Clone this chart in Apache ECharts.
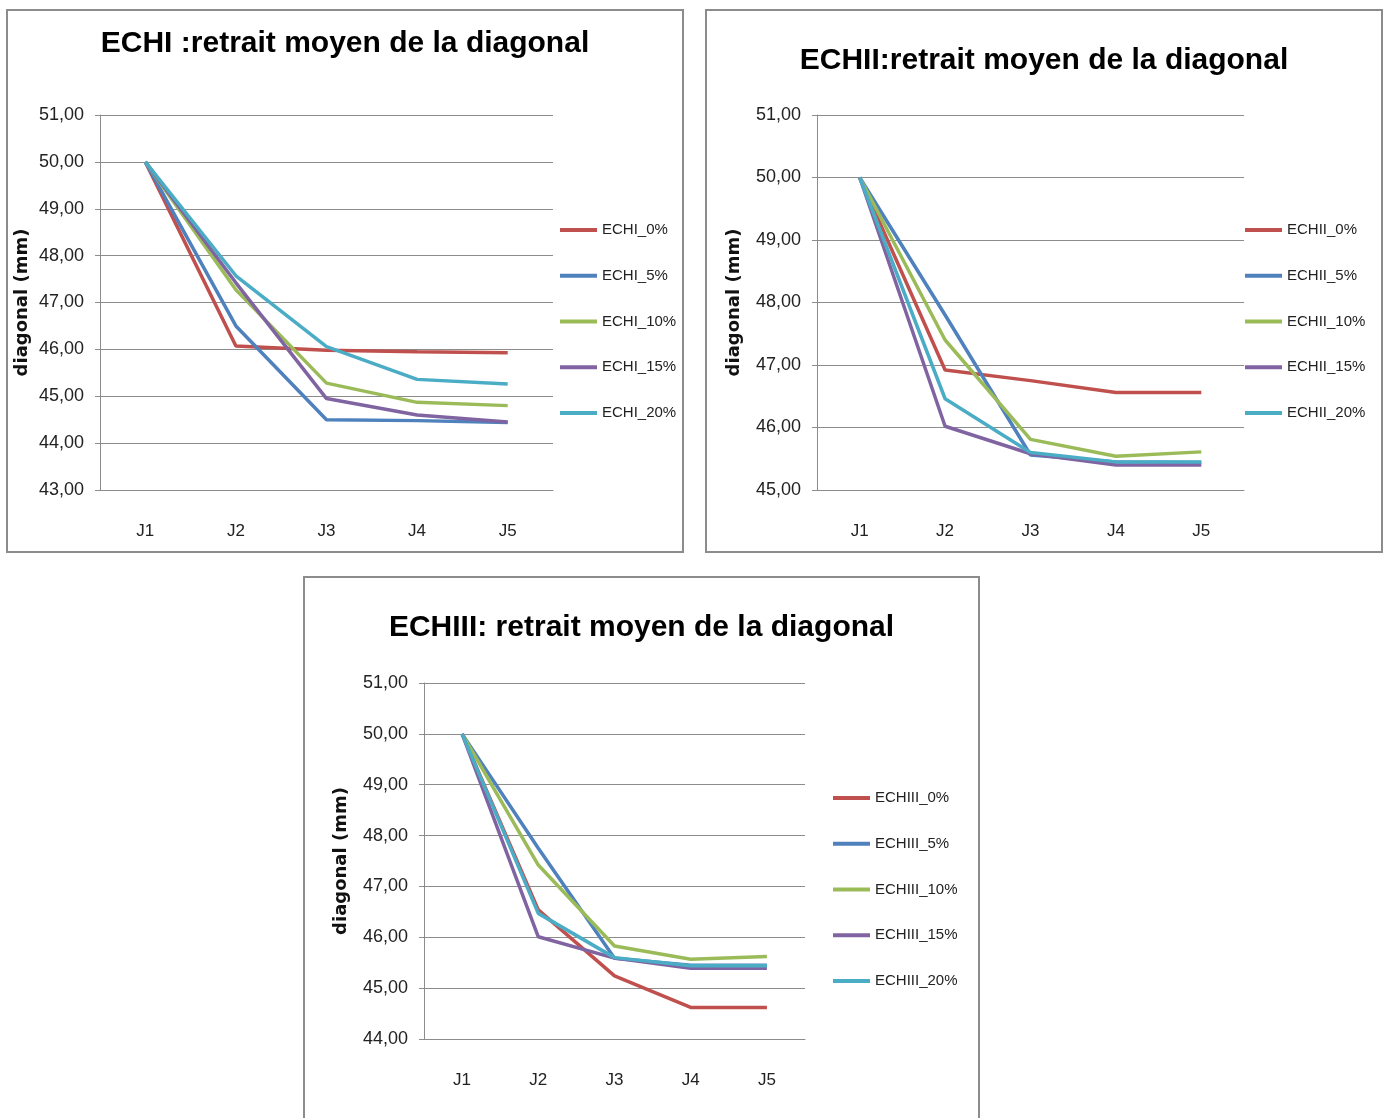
<!DOCTYPE html>
<html>
<head>
<meta charset="utf-8">
<script src="https://cdn.jsdelivr.net/npm/echarts@6/dist/echarts.min.js"></script>
<style>
body{margin:0;width:1390px;height:1118px;overflow:hidden;background:#fff;position:relative}
.box{position:absolute;border:2px solid #8c8c8c;background:#fff;box-sizing:border-box}
.chart{width:100%;height:100%}
</style>
</head>
<body>
<div class="box" style="left:6px;top:9px;width:678px;height:544px"><div class="chart" id="c1"></div></div>
<div class="box" style="left:705px;top:9px;width:678px;height:544px"><div class="chart" id="c2"></div></div>
<div class="box" style="left:303px;top:576px;width:677px;height:544px"><div class="chart" id="c3"></div></div>
<script>
var days = ['J1', 'J2', 'J3', 'J4', 'J5']
var pcts = ['0%', '5%', '10%', '15%', '20%']
var colors = ['#C0504D', '#4F81BD', '#9BBB59', '#8064A2', '#4BACC6']

// ECHI
var echI_0 = [50, 46.07, 45.98, 45.95, 45.93]
var echI_5 = [50, 46.50, 44.50, 44.48, 44.44]
var echI_10 = [50, 47.27, 45.28, 44.87, 44.80]
var echI_15 = [50, 47.42, 44.95, 44.60, 44.45]
var echI_20 = [50, 47.57, 46.06, 45.36, 45.26]

// ECHII
var echII_0 = [50, 46.92, 46.75, 46.56, 46.56]
var echII_5 = [50, 47.80, 45.56, 45.45, 45.44]
var echII_10 = [50, 47.40, 45.81, 45.54, 45.61]
var echII_15 = [50, 46.02, 45.58, 45.40, 45.40]
var echII_20 = [50, 46.46, 45.60, 45.45, 45.45]

// ECHIII
var echIII_0 = [50, 46.54, 45.24, 44.62, 44.62]
var echIII_5 = [50, 47.75, 45.59, 45.45, 45.45]
var echIII_10 = [50, 47.42, 45.83, 45.57, 45.62]
var echIII_15 = [50, 46.01, 45.59, 45.39, 45.39]
var echIII_20 = [50, 46.47, 45.60, 45.44, 45.44]

var font = "'Liberation Sans', Arial, sans-serif"

function makeChart(id, cfg){
    var myChart = echarts.init(document.getElementById(id))
    var series = []
    for (let i in cfg.data) {
        series.push({
            name: cfg.prefix + '_' + pcts[i],
            type: 'line',
            data: cfg.data[i],
            symbol: 'none',
            lineStyle: { width: 3.5, color: colors[i] },
            itemStyle: { color: colors[i] }
        })
    }
    var option = {
        animation: false,
        title: {
            text: cfg.title,
            left: 'center',
            top: cfg.titleTop,
            padding: 0,
            textStyle: { fontFamily: font, fontWeight: 'bold', fontSize: 30, lineHeight: 30, color: '#000' }
        },
        legend: {
            orient: 'vertical',
            left: cfg.legLeft,
            top: cfg.legTop,
            padding: 0,
            icon: 'rect',
            itemWidth: 37,
            itemHeight: 4,
            itemGap: 25.75,
            textStyle: { fontFamily: font, fontSize: 15, lineHeight: 20, color: '#222' },
            data: series.map(function (s) { return s.name })
        },
        grid: Object.assign({ outerBoundsMode: 'none', containLabel: false }, cfg.grid),
        xAxis: {
            type: 'category',
            data: days,
            axisLine: { lineStyle: { color: '#8c8c8c' } },
            axisTick: { show: false },
            axisLabel: { margin: 33, fontFamily: font, fontSize: 17, color: '#222' }
        },
        yAxis: {
            type: 'value',
            min: cfg.min,
            max: 51,
            interval: 1,
            name: 'diagonal (mm)',
            nameLocation: 'middle',
            nameRotate: 90,
            nameGap: cfg.nameGap,
            nameMoveOverlap: false,
            nameTextStyle: { fontFamily: 'DejaVu Sans', fontWeight: 'bold', fontSize: 18, color: '#111' },
            axisLine: { show: true, lineStyle: { color: '#8c8c8c' } },
            axisTick: { show: true, length: 5, lineStyle: { color: '#8c8c8c' } },
            splitLine: { lineStyle: { color: '#8c8c8c' } },
            axisLabel: {
                margin: 16,
                fontFamily: font,
                fontSize: 18,
                color: '#222',
                formatter: function (v) { return v.toFixed(2).replace('.', ',') }
            }
        },
        series: series
    }
    myChart.setOption(option)
}

makeChart('c1', {
    title: 'ECHI :retrait moyen de la diagonal', prefix: 'ECHI', titleTop: 18,
    legLeft: 552, legTop: 209, min: 43, nameGap: 69,
    grid: { left: 92, top: 104, width: 453, height: 375 },
    data: [echI_0, echI_5, echI_10, echI_15, echI_20]
})
makeChart('c2', {
    title: 'ECHII:retrait moyen de la diagonal', prefix: 'ECHII', titleTop: 35,
    legLeft: 538, legTop: 209, min: 45, nameGap: 74,
    grid: { left: 110, top: 104, width: 427, height: 375 },
    data: [echII_0, echII_5, echII_10, echII_15, echII_20]
})
makeChart('c3', {
    title: 'ECHIII: retrait moyen de la diagonal', prefix: 'ECHIII', titleTop: 35,
    legLeft: 528, legTop: 210, min: 44, nameGap: 74,
    grid: { left: 119, top: 105, width: 381, height: 356 },
    data: [echIII_0, echIII_5, echIII_10, echIII_15, echIII_20]
})
</script>
</body>
</html>
